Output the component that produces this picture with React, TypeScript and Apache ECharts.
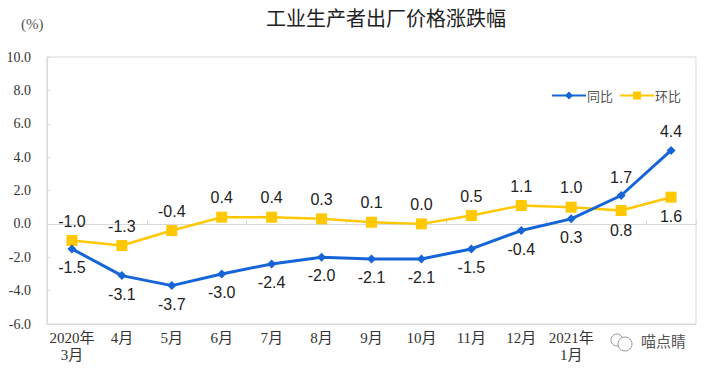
import React, { useEffect, useRef } from "react";
import * as echarts from "echarts";

const categories = ["2020年\n3月", "4月", "5月", "6月", "7月", "8月", "9月", "10月", "11月", "12月", "2021年\n1月", "2月", "3月"];
const yoy = [-1.5, -3.1, -3.7, -3.0, -2.4, -2.0, -2.1, -2.1, -1.5, -0.4, 0.3, 1.7, 4.4];
const mom = [-1.0, -1.3, -0.4, 0.4, 0.4, 0.3, 0.1, 0.0, 0.5, 1.1, 1.0, 0.8, 1.6];
// label positions
const yoyLabelPos = ["bottom", "bottom", "bottom", "bottom", "bottom", "bottom", "bottom", "bottom", "bottom", "bottom", "bottom", "top", "top"];
const momLabelPos = ["top", "top", "top", "top", "top", "top", "top", "top", "top", "top", "top", "bottom", "bottom"];

const BLUE = "#1565d8";
const YELLOW = "#ffc800";
const SERIF = "'Liberation Serif', 'Noto Sans CJK SC', serif";
const SANS = "'Liberation Sans', Arial, sans-serif";

export default function App() {
  const ref = useRef<HTMLDivElement>(null);
  useEffect(() => {
    if (!ref.current) return;
    const chart = echarts.init(ref.current, null, { renderer: "svg" });
    const labelStyle = { show: true, fontFamily: SANS, fontSize: 16, color: "#222", distance: 6, formatter: (p: any) => Number(p.value).toFixed(1) };
    chart.setOption({
      animation: false,
      title: {
        text: "工业生产者出厂价格涨跌幅",
        left: 381,
        textAlign: "center",
        top: 2,
        textStyle: { fontFamily: "'Noto Sans CJK SC', sans-serif", fontSize: 20, fontWeight: "normal", color: "#222" },
      },
      graphic: [
        { type: "text", left: 21, top: 16, style: { text: "(%)", font: "15px " + SERIF, fill: "#555" } },
        { type: "circle", shape: { cx: 617, cy: 340, r: 6 }, style: { fill: "#fff", stroke: "#999", lineWidth: 1 } },
        { type: "circle", shape: { cx: 625, cy: 344, r: 7 }, style: { fill: "#fff", stroke: "#999", lineWidth: 1 } },
        { type: "text", left: 641, top: 333, style: { text: "喵点睛", font: "15px 'Noto Sans CJK SC', sans-serif", fill: "#555" } },
      ],
      legend: {
        right: 26,
        top: 84,
        itemWidth: 34,
        itemHeight: 10,
        itemGap: 6,
        textStyle: { fontFamily: "'Noto Sans CJK SC', sans-serif", fontSize: 13, color: "#555", padding: [0, 0, 0, -4] },
        data: ["同比", "环比"],
      },
      grid: { left: 47, right: 16, top: 57, bottom: 46, show: true, borderColor: "#d9d9d9", borderWidth: 1, containLabel: false },
      xAxis: [
        {
          type: "category",
          data: categories,
          position: "bottom",
          axisLine: { onZero: false, lineStyle: { color: "#d9d9d9" } },
          axisTick: { show: false },
          axisLabel: {
            interval: (i: number) => i < 11,
            fontFamily: SERIF,
            fontSize: 15,
            color: "#333",
            lineHeight: 17,
            margin: 5,
          },
        },
        {
          type: "category",
          data: categories,
          position: "top",
          axisLine: { onZero: true, lineStyle: { color: "#d9d9d9" } },
          axisTick: { show: true, length: 4, lineStyle: { color: "#d9d9d9" } },
          axisLabel: { show: false },
        },
      ],
      yAxis: {
        type: "value",
        min: -6,
        max: 10,
        interval: 2,
        axisLine: { show: true, lineStyle: { color: "#d9d9d9" } },
        axisTick: { show: true, inside: true, length: 3, lineStyle: { color: "#d9d9d9" } },
        splitLine: { show: false },
        axisLabel: { formatter: (v: number) => v.toFixed(1), fontFamily: SERIF, fontSize: 14, color: "#333", margin: 16 },
      },
      series: [
        {
          name: "同比",
          type: "line",
          data: yoy.map((v, i) => ({ value: v, label: { position: yoyLabelPos[i] } })),
          symbol: "diamond",
          symbolSize: 9,
          itemStyle: { color: BLUE },
          lineStyle: { color: BLUE, width: 3 },
          label: labelStyle,
          z: 3,
        },
        {
          name: "环比",
          type: "line",
          data: mom.map((v, i) => ({ value: v, label: { position: momLabelPos[i] } })),
          symbol: "rect",
          symbolSize: 11,
          itemStyle: { color: YELLOW },
          lineStyle: { color: YELLOW, width: 2.5 },
          label: labelStyle,
          z: 2,
        },
      ],
    });
    return () => chart.dispose();
  }, []);
  return <div ref={ref} style={{ width: 712, height: 370, position: "absolute", left: 0, top: 0 }} />;
}
